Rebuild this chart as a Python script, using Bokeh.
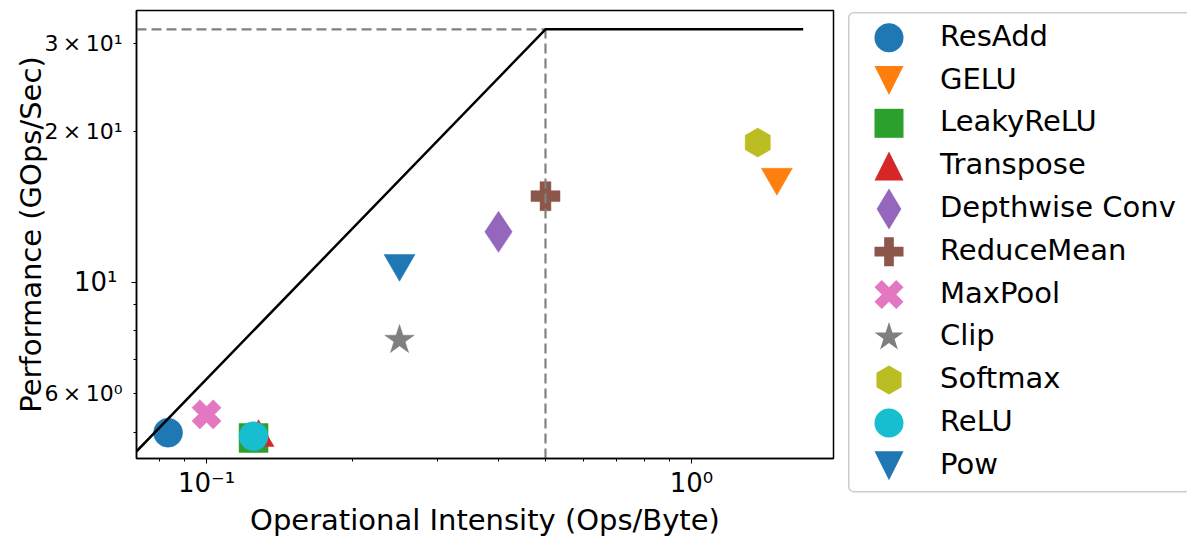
import numpy as np
from bokeh.plotting import figure
from bokeh.models import FixedTicker, Range1d, ColumnDataSource, Div
from bokeh.layouts import row
from bokeh.embed import file_html
from bokeh.resources import INLINE
from bokeh.core.properties import value

FONT = "DejaVu Sans"

# Measured kernels: operational intensity (Ops/Byte) and throughput (GOps/Sec)
kernels = ["ResAdd", "GELU", "LeakyReLU", "Transpose", "Depthwise Conv",
           "ReduceMean", "MaxPool", "Clip", "Softmax", "ReLU", "Pow"]
intensity = [0.0833, 1.5, 0.125, 0.128, 0.4, 0.5, 0.1, 0.25, 1.37, 0.125, 0.25]
performance = [5.0, 16.2, 4.88, 4.89, 12.6, 14.85, 5.44, 7.66, 19.0, 4.92, 10.9]

# Roofline parameters
peak_perf = 32.0        # GOps/Sec
bandwidth = 64.0        # GB/Sec
roof_x = [0.07, peak_perf / bandwidth, 1.7]

# Axis ticks
x_major = [0.1, 1.0]
x_major_labels = ["10\u207b\u00b9", "10\u2070"]
x_minor = [0.08, 0.09, 0.2, 0.3, 0.4, 0.5, 0.6, 0.7, 0.8, 0.9]
y_major = [10.0]
y_major_labels = ["10\u00b9"]
y_minor = [5, 6, 7, 8, 9, 20, 30]
y_minor_labeled = [6, 20, 30]
y_minor_labels = ["6\u2009\u00d7\u200910\u2070", "2\u2009\u00d7\u200910\u00b9", "3\u2009\u00d7\u200910\u00b9"]

# Per-kernel styling
colors = ["#1f77b4", "#ff7f0e", "#2ca02c", "#d62728", "#9467bd", "#8c564b",
          "#e377c2", "#7f7f7f", "#bcbd22", "#17becf", "#1f77b4"]
markers = ["circle", "inverted_triangle", "square", "triangle", "diamond", "plus",
           "plus", "star", "hex", "circle", "inverted_triangle"]
marker_size = [29, 31, 29, 31, 41, 29, 30, 31, 29, 29, 31]
marker_angle = [0, 0, 0, 0, 0, 0, np.pi / 4, 0, np.pi / 2, 0, 0]

X_LO, X_HI = 0.0717, 1.963
Y_LO, Y_HI = 4.44, 34.9
y_range = Range1d(Y_LO, Y_HI)

LAB_W = 128           # strip holding the performance-axis labels
MAIN_W = 712
LEG_W = 347
H = 539

p = figure(width=MAIN_W, height=H, x_axis_type="log", y_axis_type="log",
           x_range=Range1d(X_LO, X_HI), y_range=y_range,
           output_backend="svg", toolbar_location=None,
           min_border_left=8, min_border_right=7, min_border_top=10, min_border_bottom=77)
p.grid.visible = False
p.outline_line_color = "black"
p.outline_line_width = 1.5
p.background_fill_color = "white"
p.border_fill_color = "white"

src = ColumnDataSource(dict(x=intensity, y=performance, color=colors, marker=markers,
                            size=marker_size, angle=marker_angle, name=kernels))
p.scatter("x", "y", source=src, marker="marker", size="size", angle="angle",
          fill_color="color", line_color="color", line_width=0.5)

# Roofline and ridge-point guides
roof_y = [min(bandwidth * x, peak_perf) for x in roof_x]
ridge = peak_perf / bandwidth
p.line([X_LO, ridge], [peak_perf, peak_perf], line_color="#808080", line_width=2.2, line_dash="10 5")
p.line([ridge, ridge], [Y_LO, peak_perf], line_color="#808080", line_width=2.2, line_dash="10 5")
p.line(roof_x, roof_y, line_color="black", line_width=2.5)

for ax in (p.xaxis, p.yaxis):
    ax.axis_line_color = "black"
    ax.axis_line_width = 1.5
    ax.major_tick_line_color = "black"
    ax.minor_tick_line_color = "black"
    ax.major_tick_out = 5
    ax.major_tick_in = 0
    ax.minor_tick_out = 3
    ax.minor_tick_in = 0
    ax.major_label_text_font = FONT
    ax.major_label_text_font_size = "26px"
    ax.major_label_text_color = "black"
    ax.axis_label_text_font = FONT
    ax.axis_label_text_font_size = "29px"
    ax.axis_label_text_font_style = "normal"
    ax.axis_label_text_color = "black"

p.xaxis.ticker = FixedTicker(ticks=x_major, minor_ticks=x_minor)
p.xaxis.major_label_overrides = {t: s for t, s in zip(x_major, x_major_labels)}
p.xaxis.axis_label = "Operational Intensity (Ops/Byte)"
p.xaxis.major_label_standoff = 4
p.xaxis.axis_label_standoff = 2

# Performance axis: tick marks here, labels drawn in the strip to the left
p.yaxis.ticker = FixedTicker(ticks=y_major, minor_ticks=y_minor)
p.yaxis.major_label_text_font_size = "1px"
p.yaxis.major_label_text_alpha = 0
p.yaxis.major_label_standoff = 0

lab = figure(width=LAB_W, height=H, x_range=Range1d(0, LAB_W), y_range=y_range,
             y_axis_type="log", output_backend="svg", toolbar_location=None,
             min_border_left=0, min_border_right=0, min_border_top=10, min_border_bottom=77,
             x_axis_location=None, y_axis_location=None)
lab.grid.visible = False
lab.outline_line_color = None
lab.text(x=[LAB_W - 11] * len(y_major), y=y_major, text=y_major_labels,
         text_font=value(FONT), text_font_size="26px", text_align="right",
         text_baseline="middle", text_color="black")
lab.text(x=[LAB_W - 6] * len(y_minor_labeled), y=y_minor_labeled, text=y_minor_labels,
         text_font=value(FONT), text_font_size="22px", text_align="right",
         text_baseline="middle", text_color="black")
lab.text(x=[30], y=[np.sqrt(Y_LO * Y_HI)], text=["Performance (GOps/Sec)"], angle=np.pi / 2,
         text_font=value(FONT), text_font_size="29px", text_align="center",
         text_baseline="middle", text_color="black")


# Legend: an SVG block with one symbol and one label per kernel
def legend_symbol(kind, angle, cx, cy, color):
    r = 14.5

    def poly(pts):
        pts_s = " ".join(f"{cx + x:.2f},{cy + y:.2f}" for x, y in pts)
        return f'<polygon points="{pts_s}" fill="{color}"/>'

    if kind == "circle":
        return f'<circle cx="{cx:.2f}" cy="{cy:.2f}" r="{r}" fill="{color}"/>'
    if kind == "square":
        return f'<rect x="{cx - r:.2f}" y="{cy - r:.2f}" width="{2 * r}" height="{2 * r}" fill="{color}"/>'
    if kind == "triangle":
        return poly([(0, -r), (r, r), (-r, r)])
    if kind == "inverted_triangle":
        return poly([(-r, -r), (r, -r), (0, r)])
    if kind == "diamond":
        h = r * np.sqrt(2)
        return poly([(0, -h), (0.6 * h, 0), (0, h), (-0.6 * h, 0)])
    if kind == "plus":
        b = r if angle == 0 else r / 0.943
        a = b / 3
        xs = [a, a, b, b, a, a, -a, -a, -b, -b, -a, -a]
        ys = [b, a, a, -a, -a, -b, -b, -a, -a, a, a, b]
        c, s = np.cos(angle), np.sin(angle)
        return poly([(x * c - y * s, x * s + y * c) for x, y in zip(xs, ys)])
    if kind == "star":
        R = 15.2
        pts = []
        for k in range(10):
            rad = R if k % 2 == 0 else R * 0.382
            t = -np.pi / 2 + k * np.pi / 5
            pts.append((rad * np.cos(t), rad * np.sin(t)))
        return poly(pts)
    if kind == "hex":
        return poly([(r * np.cos(-np.pi / 2 + k * np.pi / 3), r * np.sin(-np.pi / 2 + k * np.pi / 3))
                     for k in range(6)])
    return ""


TEXT_STYLE = "font-family:'DejaVu Sans';font-size:29px;font-weight:normal;font-style:normal;fill:#000000"
row_y = 37.7 + 42.8 * np.arange(len(kernels))
parts = [f'<svg xmlns="http://www.w3.org/2000/svg" width="{LEG_W}" height="{H}" '
         f'style="display:block;margin:0;padding:0">',
         '<rect x="8.75" y="12.75" width="420" height="479" rx="5" ry="5" fill="white" '
         'stroke="#cccccc" stroke-width="1.5"/>']
for name, kind, ang, color, cy in zip(kernels, markers, marker_angle, colors, row_y):
    parts.append(legend_symbol(kind, ang if kind == "plus" else 0, 49, cy, color))
    parts.append(f'<text x="100" y="{cy + 8:.1f}" style="{TEXT_STYLE}">{name}</text>')
parts.append("</svg>")
leg = Div(text="".join(parts), width=LEG_W, height=H, margin=0,
          styles={"margin": "0", "padding": "0"})

layout = row(lab, p, leg)
open("out.html", "w").write(file_html(layout, INLINE))
